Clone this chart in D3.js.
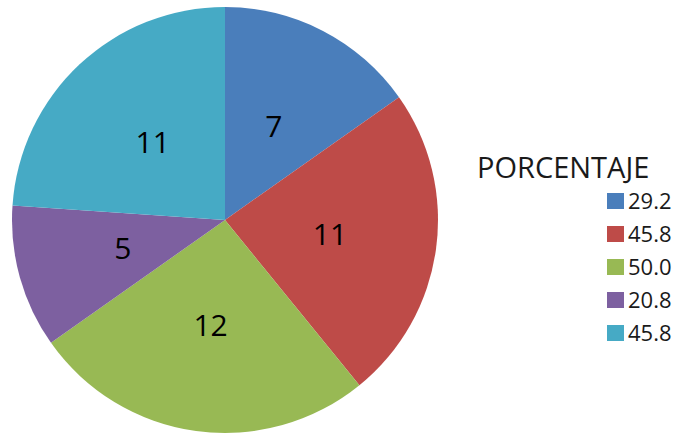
<!DOCTYPE html>
<html>
<head>
<meta charset="utf-8">
<script src="https://cdn.jsdelivr.net/npm/d3@7"></script>
<style>
  body { margin: 0; background: #fff; }
  text { font-family: "Open Sans", "Noto Sans", sans-serif; }
</style>
</head>
<body>
<div class="chart"></div>
<script>
// legend labels (percent) and slice counts
var categories = ["29.2", "45.8", "50.0", "20.8", "45.8"];
var values = [7, 11, 12, 5, 11];
var colors = ["#4A7EBB", "#BE4B48", "#98B954", "#7D60A0", "#46AAC5"];
var legendTitle = "PORCENTAJE";

var width = 681, height = 435;
var cx = 225, cy = 220, radius = 213;

var svg = d3.select(".chart").append("svg")
    .attr("width", width)
    .attr("height", height);

var color = d3.scaleOrdinal().domain(d3.range(values.length)).range(colors);

var pie = d3.pie().sort(null).value(function (d) { return d; });
var arcs = pie(values);

var arc = d3.arc().innerRadius(0).outerRadius(radius);
var labelArc = d3.arc().innerRadius(212).outerRadius(0); // centroid at r/2 ~ 106

var g = svg.append("g").attr("transform", "translate(" + cx + "," + cy + ")");

g.selectAll("path")
    .data(arcs)
    .enter().append("path")
    .attr("d", arc)
    .style("fill", function (d, i) { return color(i); });

g.selectAll("text.lbl")
    .data(arcs)
    .enter().append("text")
    .attr("class", "lbl")
    .attr("transform", function (d) { return "translate(" + labelArc.centroid(d) + ")"; })
    .attr("text-anchor", "middle")
    .attr("dy", "0.36em")
    .style("font-size", "30px")
    .style("fill", "#000")
    .text(function (d) { return d.data; });

// legend
var legend = svg.append("g");
legend.append("text")
    .attr("x", 477)
    .attr("y", 178)
    .style("font-size", "29px")
    .style("fill", "#1a1a1a")
    .text(legendTitle);

var rowY = d3.scaleLinear().domain([0, categories.length - 1]).range([201, 333]);

var item = legend.selectAll("g.item")
    .data(categories)
    .enter().append("g")
    .attr("class", "item")
    .attr("transform", function (d, i) { return "translate(607," + rowY(i) + ")"; });

item.append("rect")
    .attr("x", 0)
    .attr("y", -8)
    .attr("width", 17)
    .attr("height", 16)
    .style("fill", function (d, i) { return color(i); });

item.append("text")
    .attr("x", 21)
    .attr("dy", "0.36em")
    .style("font-size", "22px")
    .style("fill", "#1a1a1a")
    .text(function (d) { return d; });
</script>
</body>
</html>
